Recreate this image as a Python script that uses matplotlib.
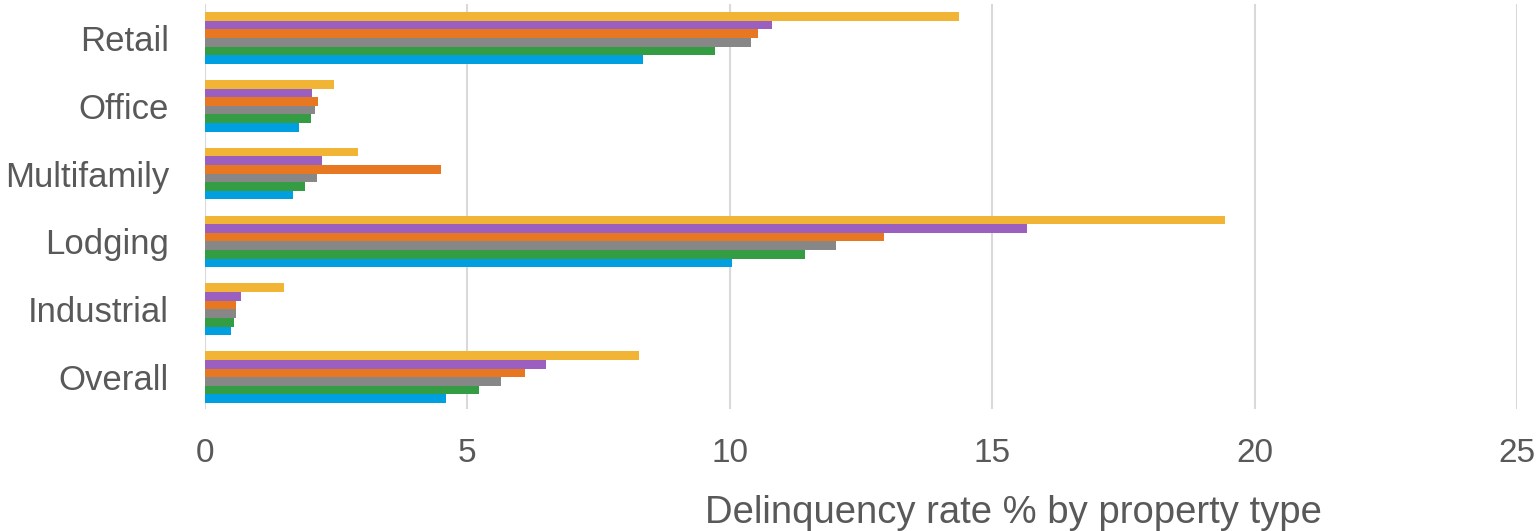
import matplotlib
matplotlib.use("Agg")
import matplotlib.pyplot as plt
import numpy as np

plt.rcParams['font.family'] = ['Liberation Sans', 'DejaVu Sans']

# categories bottom to top, series drawn bottom to top within each group
categories = ["Overall", "Industrial", "Lodging", "Multifamily", "Office", "Retail"]
series_names = ["Series 1", "Series 2", "Series 3", "Series 4", "Series 5", "Series 6"]
colors = ["#009FDF", "#349C42", "#878787", "#E87722", "#9B5FC0", "#F2B435"]

s1 = [4.60, 0.50, 10.05, 1.68, 1.79, 8.35]
s2 = [5.22, 0.55, 11.44, 1.91, 2.02, 9.72]
s3 = [5.64, 0.59, 12.03, 2.14, 2.10, 10.41]
s4 = [6.10, 0.59, 12.94, 4.50, 2.15, 10.54]
s5 = [6.50, 0.69, 15.67, 2.23, 2.04, 10.81]
s6 = [8.27, 1.51, 19.43, 2.92, 2.46, 14.36]
values = [s1, s2, s3, s4, s5, s6]

fig = plt.figure(figsize=(15.4, 5.31), dpi=100)
ax = fig.add_axes([205/1540, 1 - 409/531, (1517-205)/1540, (409-4)/531])

y = np.arange(len(categories))
h = 0.127
n = len(values)
for i, vals in enumerate(values):
    off = (i - (n - 1) / 2) * h
    ax.barh(y + off, vals, height=h, color=colors[i], label=series_names[i],
            linewidth=0, zorder=3)

ax.set_xlim(0, 25)
ax.set_ylim(-0.47, 5.5)
ax.set_xticks([0, 5, 10, 15, 20, 25])
ax.set_yticks(y)
ax.set_yticklabels(categories)
ax.grid(axis='x', color='#d9d9d9', linewidth=1.5, zorder=0)
ax.grid(axis='y', visible=False)
for sp in ax.spines.values():
    sp.set_visible(False)
ax.tick_params(axis='both', length=0, labelcolor='#595959')
ax.tick_params(axis='y', pad=26, labelsize=25)
ax.tick_params(axis='x', pad=21, labelsize=24)

fig.text(1013/1540, 8/531, "Delinquency rate % by property type",
         ha='center', va='baseline', fontsize=27.5, color='#595959')

fig.savefig("out.png", dpi=100)
